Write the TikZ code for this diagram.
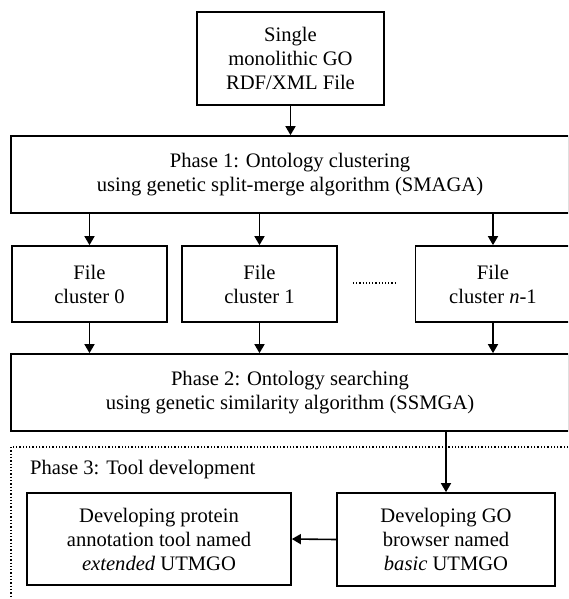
\documentclass[tikz,border=0pt]{standalone}
\usepackage{fontspec}
\setmainfont{Liberation Serif}
\usetikzlibrary{arrows.meta}

\tikzset{
  box/.style={draw, line width=1.7pt, rectangle, align=center, inner sep=0pt,
              font=\fontsize{20.6}{24}\selectfont},
  arr/.style={line width=1.6pt, -{Triangle[length=9pt,width=10pt]}},
  phaseframe/.style={draw, line width=1.3pt, dotted},
  lbl/.style={font=\fontsize{20.6}{24}\selectfont, inner sep=0pt}
}

\begin{document}
\begin{tikzpicture}[x=1pt, y=-1pt]
  \useasboundingbox (0,0) rectangle (568,599);
  \clip (0,0) rectangle (568,599);

  % source file
  \node[box, minimum width=187pt, minimum height=93pt] (src) at (290.5,58.5)
    {Single\\monolithic GO\\RDF/XML File};

  % phase 1
  \node[box, minimum width=558pt, minimum height=77pt] (p1) at (290,174.5)
    {Phase 1: Ontology clustering\\using genetic split-merge algorithm (SMAGA)};

  % clusters
  \node[box, minimum width=155pt, minimum height=76pt] (c0) at (89.5,284)
    {File\\cluster 0};
  \node[box, minimum width=155pt, minimum height=76pt] (c1) at (259.5,284)
    {File\\cluster 1};
  \node[box, minimum width=155pt, minimum height=76pt] (cn) at (493,284)
    {File\\cluster \textit{n}-1};
  \coordinate (dotsL) at (353,283);
  \coordinate (dotsR) at (397,283);
  \draw[dotted, line width=1.2pt] (dotsL) -- (dotsR);

  % phase 2
  \node[box, minimum width=558pt, minimum height=77pt] (p2) at (290,392.5)
    {Phase 2: Ontology searching\\using genetic similarity algorithm (SSMGA)};

  % phase 3 frame
  \coordinate (frNW) at (11,447);
  \coordinate (frSE) at (590,640);
  \draw[phaseframe] (frNW) rectangle (frSE);
  \node[lbl, anchor=west] (p3) at (30,470) {Phase 3: Tool development};

  \node[box, minimum width=264pt, minimum height=92pt] (ext) at (159,539)
    {Developing protein\\annotation tool named\\\textit{extended} UTMGO};
  \node[box, minimum width=218pt, minimum height=93pt] (bas) at (446,539.5)
    {Developing GO\\browser named\\\textit{basic} UTMGO};

  % connectors
  \draw[arr] (src.south) -- (src.south |- p1.north);
  \draw[arr] (p1.south -| c0.north) -- (c0.north);
  \draw[arr] (p1.south -| c1.north) -- (c1.north);
  \draw[arr] (p1.south -| cn.north) -- (cn.north);
  \draw[arr] (c0.south) -- (c0.south |- p2.north);
  \draw[arr] (c1.south) -- (c1.south |- p2.north);
  \draw[arr] (cn.south) -- (cn.south |- p2.north);
  \draw[arr] (p2.south -| bas.north) -- (bas.north);
  \draw[arr] (bas.west) -- (ext.east);
\end{tikzpicture}
\end{document}
